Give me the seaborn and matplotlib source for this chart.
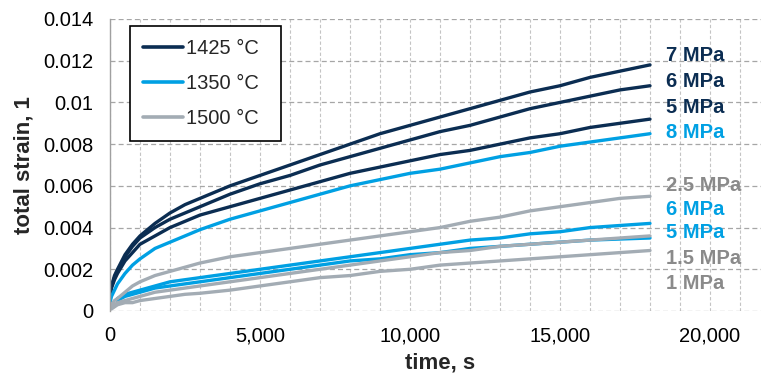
import numpy as np
import pandas as pd
import matplotlib
matplotlib.use("Agg")
import matplotlib.pyplot as plt
import matplotlib.ticker as mticker
import seaborn as sns

# ---- data (strain values; None = no reading) ----
time_s = [0, 50, 150, 250, 500, 750, 1000, 1500, 2000, 2500, 3000, 4000, 5000, 6000,
          7000, 8000, 9000, 10000, 11000, 12000, 13000, 14000, 15000, 16000, 17000, 18000]

s1425_7 = [0.0008, 0.0012, 0.0017, 0.0020, 0.0027, 0.0032, 0.0036, 0.0042, 0.0047, 0.0051, 0.0054, 0.0060, 0.0065,
           0.0070, 0.0075, 0.0080, 0.0085, 0.0089, 0.0093, 0.0097, 0.0101, 0.0105, 0.0108, 0.0112, 0.0115, 0.0118]
s1425_6 = [0.0008, 0.0012, 0.0016, 0.0019, 0.0026, 0.0031, 0.0035, 0.0040, 0.0044, 0.0047, 0.0050, 0.0056, 0.0061,
           0.0065, 0.0070, 0.0074, 0.0078, 0.0082, 0.0086, 0.0089, 0.0093, 0.0097, 0.0100, 0.0103, 0.0106, 0.0108]
s1425_5 = [0.0008, 0.0011, 0.0015, 0.0018, 0.0024, 0.0028, 0.0032, 0.0036, 0.0040, 0.0043, 0.0046, 0.0050, 0.0054,
           0.0058, 0.0062, 0.0066, 0.0069, 0.0072, 0.0075, 0.0077, 0.0080, 0.0083, 0.0085, 0.0088, 0.0090, 0.0092]
s1350_8 = [0.0004, 0.0007, 0.0010, 0.0013, 0.0018, 0.0022, 0.0025, 0.0030, 0.0033, 0.0036, 0.0039, 0.0044, 0.0048,
           0.0052, 0.0056, 0.0060, 0.0063, 0.0066, 0.0068, 0.0071, 0.0074, 0.0076, 0.0079, 0.0081, 0.0083, 0.0085]
s1350_6 = [None, None, None, 0.0006, 0.0008, 0.0009, 0.0010, 0.0012, 0.0014, 0.0015, 0.0016, 0.0018, 0.0020,
           0.0022, 0.0024, 0.0026, 0.0028, 0.0030, 0.0032, 0.0034, 0.0035, 0.0037, 0.0038, 0.0040, 0.0041, 0.0042]
s1350_5 = [None, None, None, 0.0005, 0.0007, 0.0008, 0.0009, 0.0011, 0.0012, 0.0013, 0.0014, 0.0016, 0.0018,
           0.0020, 0.0022, 0.0024, 0.0025, 0.0027, 0.0028, 0.0030, 0.0031, 0.0032, 0.0033, 0.0034, 0.00345, 0.0035]
s1500_25 = [0.0001, 0.0003, 0.0005, 0.0006, 0.0009, 0.0012, 0.0014, 0.0017, 0.0019, 0.0021, 0.0023, 0.0026, 0.0028,
            0.0030, 0.0032, 0.0034, 0.0036, 0.0038, 0.0040, 0.0043, 0.0045, 0.0048, 0.0050, 0.0052, 0.0054, 0.0055]
s1500_15 = [0.0001, 0.0002, 0.0003, 0.0004, 0.0005, 0.0006, 0.0007, 0.0009, 0.0010, 0.0011, 0.0012, 0.0014, 0.0016,
            0.0018, 0.0020, 0.0022, 0.0024, 0.0026, 0.0028, 0.0029, 0.0031, 0.0032, 0.0033, 0.0034, 0.0035, 0.0036]
s1500_1 = [0.0001, 0.0001, 0.0002, 0.0003, 0.0004, 0.0004, 0.0005, 0.0006, 0.0007, 0.0008, 0.00085, 0.0010, 0.0012,
           0.0014, 0.0016, 0.0017, 0.0019, 0.0020, 0.0022, 0.0023, 0.0024, 0.0025, 0.0026, 0.0027, 0.0028, 0.0029]

temperatures = ["1425 °C", "1350 °C", "1500 °C"]
series = [
    ("1425 °C", "7 MPa", s1425_7),
    ("1425 °C", "6 MPa", s1425_6),
    ("1425 °C", "5 MPa", s1425_5),
    ("1350 °C", "8 MPa", s1350_8),
    ("1350 °C", "6 MPa", s1350_6),
    ("1350 °C", "5 MPa", s1350_5),
    ("1500 °C", "2.5 MPa", s1500_25),
    ("1500 °C", "1.5 MPa", s1500_15),
    ("1500 °C", "1 MPa", s1500_1),
]

end_labels = ["7 MPa", "6 MPa", "5 MPa", "8 MPa", "2.5 MPa", "6 MPa", "5 MPa", "1.5 MPa", "1 MPa"]
end_label_temps = ["1425 °C", "1425 °C", "1425 °C", "1350 °C", "1500 °C", "1350 °C", "1350 °C", "1500 °C", "1500 °C"]
end_label_y = [0.01223, 0.01098, 0.00978, 0.00854, 0.00604, 0.00489, 0.00374, 0.00254, 0.00134]

line_colors = {"1425 °C": "#0b2d52", "1350 °C": "#00a0e3", "1500 °C": "#a3acb4"}
text_colors = {"1425 °C": "#0b2d52", "1350 °C": "#00a0e3", "1500 °C": "#8a8a8a"}

rows = []
for temp, stress, vals in series:
    for t, v in zip(time_s, vals):
        if v is None:
            continue
        rows.append({"time": t, "strain": v, "temp": temp, "run": temp + " " + stress})
df = pd.DataFrame(rows)

sns.set_theme(style="white")
plt.rcParams["font.family"] = ["Liberation Sans", "DejaVu Sans"]

W, H = 761, 373
fig = plt.figure(figsize=(W / 100, H / 100), dpi=100)
ax = fig.add_axes([110 / W, 1 - 311 / H, (770 - 110) / W, (311 - 19) / H])

sns.lineplot(data=df, x="time", y="strain", hue="temp", units="run", estimator=None,
             hue_order=temperatures, palette=line_colors, lw=2.4, sort=False, ax=ax)

ax.set_xlim(0, 22000)
ax.set_ylim(0, 0.014)
ax.set_yticks(np.arange(0, 0.0141, 0.002))
ax.set_xticks([0, 5000, 10000, 15000, 20000])
ax.xaxis.set_minor_locator(mticker.MultipleLocator(1000))
ax.xaxis.set_major_formatter(mticker.FuncFormatter(lambda v, p: f"{int(v):,}"))
ax.yaxis.set_major_formatter(mticker.FuncFormatter(
    lambda v, p: "0" if abs(v) < 1e-12 else ("%.3f" % v).rstrip("0")))

ax.grid(False)
ax.xaxis.grid(True, which="both", color="#c4c4c4", linestyle=(0, (3, 2)), lw=0.8)
ax.yaxis.grid(True, which="major", color="#a6a6a6", linestyle=(0, (4, 2.5)), lw=0.9)
ax.set_axisbelow(True)

for s in ["top", "right", "bottom"]:
    ax.spines[s].set_visible(False)
ax.spines["left"].set_color("#a0a0a0")
ax.spines["left"].set_linewidth(1.0)

ax.tick_params(axis="both", which="both", length=0, labelsize=14.5, colors="black")
ax.tick_params(axis="y", pad=12)
ax.tick_params(axis="x", pad=11)

ax.set_xlabel("time, s", fontsize=16, fontweight="bold", labelpad=5)
ax.set_ylabel("total strain, 1", fontsize=16, fontweight="bold", labelpad=6)

for txt, tmp, yv in zip(end_labels, end_label_temps, end_label_y):
    ax.text(18550, yv, txt, ha="left", va="center", fontsize=14.5, fontweight="bold",
            color=text_colors[tmp])

handles, labels = ax.get_legend_handles_labels()
for h in handles:
    h.set_linewidth(2.6)
leg = ax.legend(handles, labels, loc="upper left", mode="expand",
                bbox_to_anchor=(130 / W, 1 - 26 / H, 151 / W, 0), bbox_transform=fig.transFigure,
                borderaxespad=0, fontsize=14.5, frameon=True, fancybox=False,
                framealpha=1, edgecolor="black", handlelength=2.0, handletextpad=0.15,
                labelspacing=0.8, borderpad=0.65)
leg.get_frame().set_linewidth(1.2)

fig.savefig("out.png", dpi=100)
